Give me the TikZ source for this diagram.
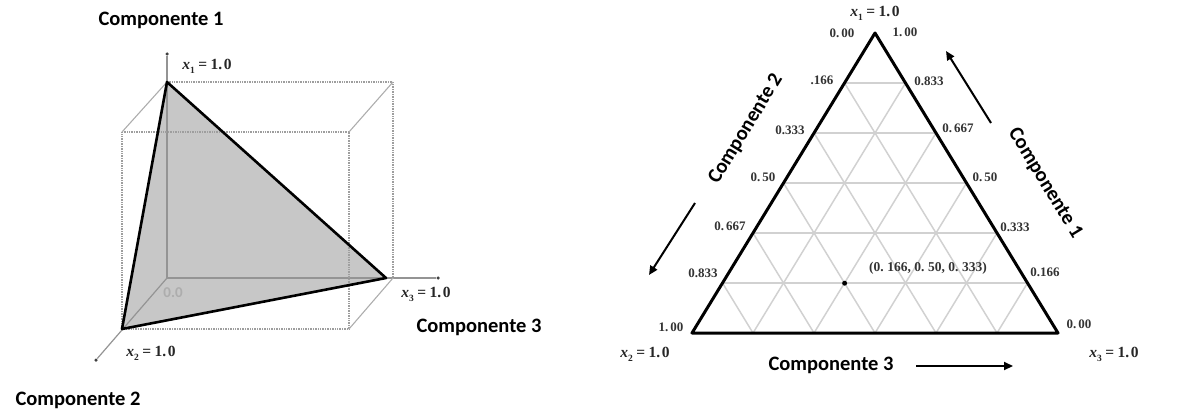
\documentclass[tikz,border=0pt]{standalone}
\usepackage{fontspec}
\newfontfamily\cf{Carlito}
\newfontfamily\nf{Liberation Serif}
\usetikzlibrary{arrows.meta,calc}
\newcommand{\xlabtext}[1]{\textit{x}\raisebox{-0.25em}{\fontsize{9.5}{10}\selectfont #1}\hspace{3.5pt}=\hspace{3.5pt}1.\hspace{1.5pt}0}
\begin{document}
\begin{tikzpicture}[x=1pt,y=-1pt,
  comp/.style={font=\cf\bfseries\fontsize{20.5}{24}\selectfont, inner sep=0pt},
  num/.style={font=\nf\bfseries\fontsize{13}{15}\selectfont, text=black!80, inner sep=0pt},
  xlab/.style={font=\nf\bfseries\fontsize{15.5}{17}\selectfont, text=black!85, inner sep=0pt},
  boxline/.style={draw=black!38, line width=1.3pt, dash pattern=on 1pt off 0.7pt},
  axisline/.style={draw=black!42, line width=1.2pt},
  diag/.style={draw=black!32, line width=1.1pt},
  simplex/.style={draw=black, line width=2.6pt, line join=round},
  gridline/.style={draw=black!18, line width=1.5pt},
  arr/.style={draw=black, line width=2pt, -{Triangle[length=9pt,width=8pt]}},
  enddot/.style={circle, fill=black!75, inner sep=0pt, minimum size=3.5pt},
]
\useasboundingbox (0,0) rectangle (1177,412);

% ---------- left figure ----------
\coordinate (O) at (167,278);
\coordinate (V1) at (167,82);
\coordinate (V2) at (122,329);
\coordinate (V3) at (386,278);
\coordinate (BTR) at (393,82);
\coordinate (BBR) at (393,278);
\coordinate (FTL) at (122,132);
\coordinate (FTR) at (349,132);
\coordinate (FBR) at (349,329);
\node[enddot] (d1) at (167,54) {};
\node[enddot] (d3) at (438,278) {};
\node[enddot] (d2) at (96,360) {};

\fill[black!22] (V1) -- (V2) -- (V3) -- cycle;
\draw[axisline] (d1) -- (O) -- (d3);
\draw[axisline] (O) -- (d2);
\draw[boxline] (V1) -- (BTR) -- (BBR);
\draw[boxline] (FTL) -- (FTR) -- (FBR) -- (V2) -- cycle;
\draw[diag] (V1) -- (FTL);
\draw[diag] (BTR) -- (FTR);
\draw[diag] (BBR) -- (FBR);
\draw[simplex] (V1) -- (V2) -- (V3) -- cycle;

\node[xlab] (l1) at (207,66) {\xlabtext{1}};
\node[xlab] (l3) at (426,294) {\xlabtext{3}};
\node[xlab] (l2) at (151,353) {\xlabtext{2}};
\node[font=\cf\bfseries\fontsize{15}{17}\selectfont, text=black!32, inner sep=0pt] (zero) at (173,293) {0.0};
\node[comp] (c1) at (161,20) {Componente 1};
\node[comp] (c3) at (479,327) {Componente 3};
\node[comp] (c2) at (78,400) {Componente 2};

% ---------- right figure ----------
\coordinate (T) at (875,33);
\coordinate (L) at (692,333);
\coordinate (R) at (1058,333);
\foreach \i in {1,...,5}{
  \draw[gridline] ($(L)!\i/6!(T)$) -- ($(R)!\i/6!(T)$);
  \draw[gridline] ($(L)!\i/6!(R)$) -- ($(L)!\i/6!(T)$);
  \draw[gridline] ($(R)!\i/6!(L)$) -- ($(R)!\i/6!(T)$);
}
\draw[simplex, line width=3pt] (T) -- (L) -- (R) -- cycle;
\node[circle, fill=black, inner sep=0pt, minimum size=5pt] (P) at ($0.166*(T)+0.5*(L)+0.334*(R)$) {};
\node[num, font=\nf\bfseries\fontsize{13.5}{15}\selectfont] (ptxt) at (928,268) {(0.\hspace{3.5pt}166,\hspace{3.5pt}0.\hspace{3.5pt}50,\hspace{3.5pt}0.\hspace{3.5pt}333)};

% left side labels
\node[num] (a1) at (822,80) {.166};
\node[num] (a2) at (790,130) {0.333};
\node[num] (a3) at (763,177) {0.\hspace{2pt}50};
\node[num] (a4) at (730,226) {0.\hspace{2pt}667};
\node[num] (a5) at (703,273) {0.833};
\node[num] (a6) at (671,327) {1.\hspace{2pt}00};
% right side labels
\node[num] (b1) at (929,81) {0.833};
\node[num] (b2) at (958,128) {0.\hspace{2pt}667};
\node[num] (b3) at (985,177) {0.\hspace{2pt}50};
\node[num] (b4) at (1015,227) {0.333};
\node[num] (b5) at (1045,272) {0.166};
\node[num] (b6) at (1079,324) {0.\hspace{2pt}00};
% top labels
\node[num] (t0) at (842,33) {0.\hspace{2pt}00};
\node[num] (t1) at (905,32) {1.\hspace{2pt}00};

\node[xlab] (r1) at (875,13) {\xlabtext{1}};
\node[xlab] (r2) at (645,354) {\xlabtext{2}};
\node[xlab] (r3) at (1114,354) {\xlabtext{3}};

\node[comp, rotate=58.6] (rc2) at (746,129) {Componente 2};
\node[comp, rotate=-58.6] (rc1) at (1045,183) {Componente 1};
\node[comp] (rc3) at (831,365) {Componente 3};

\coordinate (ra1) at (991,123);
\coordinate (ra2) at (946,51);
\draw[arr] (ra1) -- (ra2);
\coordinate (la1) at (695,203);
\coordinate (la2) at (649,275);
\draw[arr] (la1) -- (la2);
\coordinate (ba1) at (916,366);
\coordinate (ba2) at (1013,366);
\draw[arr] (ba1) -- (ba2);
\end{tikzpicture}
\end{document}
